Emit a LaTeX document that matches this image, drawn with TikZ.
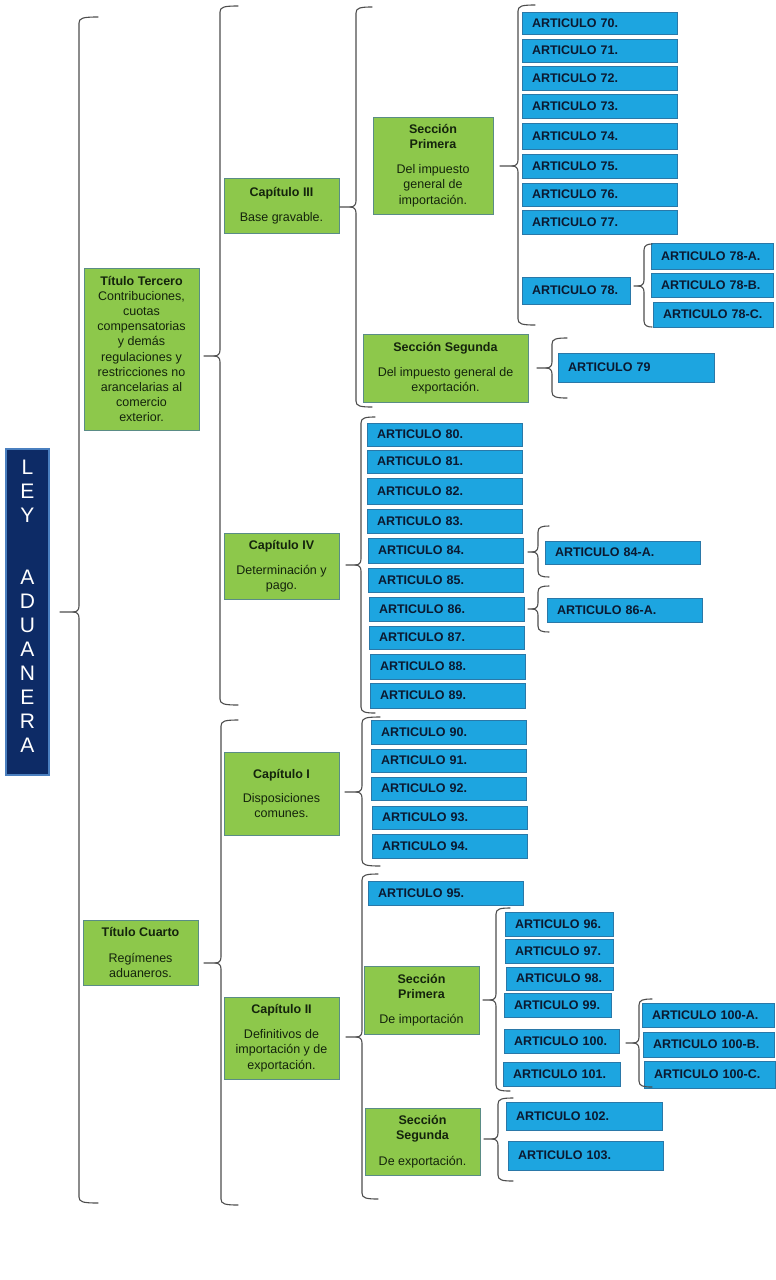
\documentclass[tikz,border=0pt]{standalone}
\usepackage{fontspec}
\setmainfont{Liberation Sans}
\definecolor{artfill}{HTML}{1DA5E0}
\definecolor{artedge}{HTML}{2A78A8}
\definecolor{arttext}{HTML}{0B1930}
\definecolor{grfill}{HTML}{8DC84B}
\definecolor{gredge}{HTML}{5A8C86}
\definecolor{grtext}{HTML}{14240C}
\definecolor{leyfill}{HTML}{0D2B66}
\definecolor{leyedge}{HTML}{4A7FBF}
\definecolor{brcol}{HTML}{4D4D4D}
\tikzset{
  artbox/.style={draw=artedge, fill=artfill, line width=0.9pt, inner xsep=10pt, inner ysep=0pt,
    font=\fontsize{12.5}{15}\selectfont\bfseries, text=arttext, align=left},
  greenbox/.style={draw=gredge, fill=grfill, line width=0.9pt, inner sep=2pt, align=center,
    font=\fontsize{12.5}{15.2}\selectfont, text=grtext},
  brc/.style={draw=brcol, line width=1.1pt, line cap=round}
}
\newcommand\art[6]{%
  \pgfmathsetmacro\bw{#4-#2}\pgfmathsetmacro\bh{#5-#3}\pgfmathsetmacro\tw{#4-#2-20}%
  \node[artbox, minimum width=\bw pt, minimum height=\bh pt, text width=\tw pt] (#1)
    at ({(#2+#4)/2},{(#3+#5)/2}) {#6};}
\newcommand\grn[6]{%
  \pgfmathsetmacro\bw{#4-#2}\pgfmathsetmacro\bh{#5-#3}%
  \node[greenbox, minimum width=\bw pt, minimum height=\bh pt] (#1)
    at ({(#2+#4)/2},{(#3+#5)/2}) {#6};}
% brace: vx, ytop, ybot, ymid, tipx, hookx
\newcommand\cbr[6]{%
  \draw[brc] (#6,#2) .. controls ({#1+4},#2) and (#1,{#2+1}) .. (#1,{#2+6})
    -- (#1,{#4-6}) .. controls (#1,{#4-2}) and ({#1-2},#4) .. ({#1-6},#4) -- (#5,#4);
  \draw[brc] (#6,#3) .. controls ({#1+4},#3) and (#1,{#3-1}) .. (#1,{#3-6})
    -- (#1,{#4+6}) .. controls (#1,{#4+2}) and ({#1-2},#4) .. ({#1-6},#4);}
\begin{document}
\begin{tikzpicture}[x=1pt,y=-1pt]
\useasboundingbox (0,0) rectangle (776,1280);
\fill[white] (0,0) rectangle (776,1280);

% root
\node[draw=leyedge, fill=leyfill, line width=1.2pt, minimum width=43pt, minimum height=326pt, inner sep=0pt] (ley) at (27.5,612) {};
\node[text=white, font=\fontsize{21}{24}\selectfont, align=center, inner sep=0pt] (leytxt) at (27.5,606.5)
  {L\\E\\Y\\[38pt]A\\D\\U\\A\\N\\E\\R\\A};

% titles
\grn{tt}{84}{268}{199}{430}{\textbf{Título Tercero}\\Contribuciones,\\cuotas\\compensatorias\\y demás\\regulaciones y\\restricciones no\\arancelarias al\\comercio\\exterior.}
\grn{tc}{83}{920}{198}{985}{\textbf{Título Cuarto}\\[10pt]Regímenes\\aduaneros.}

% chapters
\grn{c3}{224}{178}{339}{233}{\textbf{Capítulo III}\\[10pt]Base gravable.}
\grn{c4}{224}{533}{339}{599}{\textbf{Capítulo IV}\\[10pt]Determinación y\\pago.}
\grn{c1}{224}{752}{339}{835}{\textbf{Capítulo I}\\[9pt]Disposiciones\\comunes.}
\grn{c2}{224}{997}{339}{1079}{\textbf{Capítulo II}\\[10pt]Definitivos de\\importación y de\\exportación.}

% sections
\grn{sp1}{373}{117}{493}{214}{\textbf{Sección}\\\textbf{Primera}\\[10pt]Del impuesto\\general de\\importación.}
\grn{ss1}{363}{334}{528}{402}{\textbf{Sección Segunda}\\[10pt]Del impuesto general de\\exportación.}
\grn{sp2}{364}{966}{479}{1034}{\textbf{Sección}\\\textbf{Primera}\\[10pt]De importación}
\grn{ss2}{365}{1108}{480}{1175}{\textbf{Sección}\\\textbf{Segunda}\\[10pt]De exportación.}

% articles
\art{a70}{522}{12}{677}{34}{ARTICULO 70.}
\art{a71}{522}{39}{677}{62}{ARTICULO 71.}
\art{a72}{522}{66}{677}{90}{ARTICULO 72.}
\art{a73}{522}{94}{677}{118}{ARTICULO 73.}
\art{a74}{522}{123}{677}{149}{ARTICULO 74.}
\art{a75}{522}{154}{677}{178}{ARTICULO 75.}
\art{a76}{522}{183}{677}{206}{ARTICULO 76.}
\art{a77}{522}{210}{677}{234}{ARTICULO 77.}
\art{a78}{522}{277}{630}{304}{ARTICULO 78.}
\art{a78a}{651}{243}{773}{269}{ARTICULO 78-A.}
\art{a78b}{651}{273}{773}{297}{ARTICULO 78-B.}
\art{a78c}{653}{302}{773}{327}{ARTICULO 78-C.}
\art{a79}{558}{353}{714}{382}{ARTICULO 79}
\art{a80}{367}{423}{522}{446}{ARTICULO 80.}
\art{a81}{367}{450}{522}{473}{ARTICULO 81.}
\art{a82}{367}{478}{522}{504}{ARTICULO 82.}
\art{a83}{367}{509}{522}{533}{ARTICULO 83.}
\art{a84}{368}{538}{523}{563}{ARTICULO 84.}
\art{a85}{368}{568}{523}{592}{ARTICULO 85.}
\art{a86}{369}{597}{524}{621}{ARTICULO 86.}
\art{a87}{369}{626}{524}{649}{ARTICULO 87.}
\art{a88}{370}{654}{525}{679}{ARTICULO 88.}
\art{a89}{370}{683}{525}{708}{ARTICULO 89.}
\art{a84a}{545}{541}{700}{564}{ARTICULO 84-A.}
\art{a86a}{547}{598}{702}{622}{ARTICULO 86-A.}
\art{a90}{371}{720}{526}{744}{ARTICULO 90.}
\art{a91}{371}{749}{526}{772}{ARTICULO 91.}
\art{a92}{371}{777}{526}{800}{ARTICULO 92.}
\art{a93}{372}{806}{527}{829}{ARTICULO 93.}
\art{a94}{372}{834}{527}{858}{ARTICULO 94.}
\art{a95}{368}{881}{523}{905}{ARTICULO 95.}
\art{a96}{505}{912}{613}{936}{ARTICULO 96.}
\art{a97}{505}{939}{613}{963}{ARTICULO 97.}
\art{a98}{506}{967}{613}{990}{ARTICULO 98.}
\art{a99}{504}{993}{611}{1017}{ARTICULO 99.}
\art{a100}{504}{1029}{619}{1053}{ARTICULO 100.}
\art{a101}{503}{1062}{620}{1086}{ARTICULO 101.}
\art{a100a}{642}{1003}{774}{1027}{ARTICULO 100-A.}
\art{a100b}{643}{1032}{774}{1057}{ARTICULO 100-B.}
\art{a100c}{644}{1061}{775}{1088}{ARTICULO 100-C.}
\art{a102}{506}{1102}{662}{1130}{ARTICULO 102.}
\art{a103}{508}{1141}{663}{1170}{ARTICULO 103.}

% braces
\cbr{79}{17}{1203}{612}{60}{98}
\cbr{220}{6}{705}{356}{204}{238}
\cbr{221}{720}{1205}{963}{204}{238}
\cbr{356}{7}{407}{207}{340}{372}
\cbr{361}{417}{713}{565}{346}{375}
\cbr{362}{717}{866}{792}{345}{380}
\cbr{362}{874}{1199}{1037}{346}{378}
\cbr{518}{5}{325}{166}{500}{535}
\cbr{552}{338}{398}{368}{537}{567}
\cbr{644}{244}{327}{286}{634}{652}
\cbr{538}{526}{577}{552}{528}{549}
\cbr{538}{586}{632}{609}{528}{549}
\cbr{496}{908}{1091}{1000}{483}{510}
\cbr{639}{999}{1087}{1043}{626}{652}
\cbr{498}{1098}{1181}{1139}{484}{513}
\end{tikzpicture}
\end{document}
